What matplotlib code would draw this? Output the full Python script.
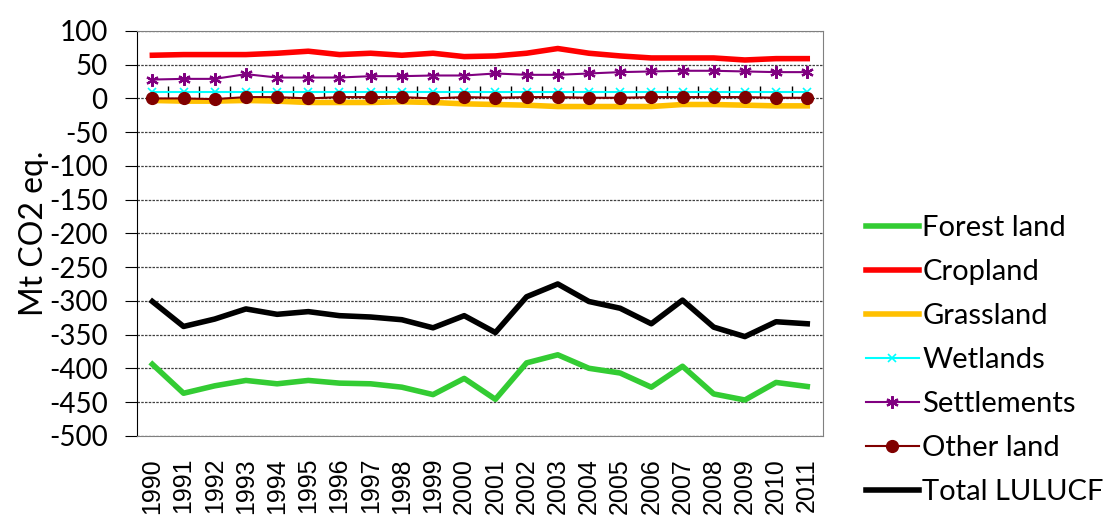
import matplotlib
matplotlib.use("Agg")
import matplotlib.pyplot as plt
import numpy as np

years = [str(y) for y in range(1990, 2012)]
forest_land = [-394, -437, -426, -418, -423, -418, -422, -423, -428, -439, -415, -446,
               -392, -380, -400, -407, -428, -397, -438, -447, -421, -427]
cropland = [64, 65, 65, 65, 67, 70, 65, 67, 64, 67, 62, 63, 67, 74, 67, 63, 60, 60, 60, 57, 59, 59]
grassland = [-3, -4, -4, -3, -4, -6, -6, -6, -5, -6, -8, -9, -10, -12, -12, -12, -12, -9, -9, -10, -11, -11]
wetlands = [9, 9, 9, 9, 9, 9, 9, 9, 9, 9, 9, 9, 9, 9, 9, 9, 9, 9, 9, 9, 9, 9]
settlements = [28, 29, 29, 36, 31, 31, 31, 33, 33, 34, 34, 37, 35, 35, 37, 39, 40, 41, 41, 40, 39, 39]
other_land = [0, 0, -1, 2, 2, 0, 2, 2, 2, 0, 2, 1, 2, 2, 1, 1, 2, 2, 2, 2, 1, 1]
total_lulucf = [-301, -338, -327, -312, -320, -316, -322, -324, -328, -340, -322, -347,
                -294, -275, -301, -311, -334, -299, -339, -353, -331, -334]

plt.rcParams['font.family'] = ['Lato', 'DejaVu Sans']
plt.rcParams['axes.unicode_minus'] = False

fig = plt.figure(figsize=(11.03, 5.25), dpi=100)
ax = fig.add_axes([0.124, 0.170, 0.622, 0.771])

x = np.arange(len(years))
asterisk = (6, 2, 0)
ax.plot(x, forest_land, color='#33CC33', lw=4, label='Forest land', zorder=3)
ax.plot(x, cropland, color='#FF0000', lw=4, label='Cropland', zorder=3)
ax.plot(x, grassland, color='#FFC000', lw=4, label='Grassland', zorder=3)
ax.plot(x, wetlands, color='#00FFFF', lw=1.5, marker='x', ms=6, mew=1.2, label='Wetlands', zorder=4)
ax.plot(x, settlements, color='#800080', lw=1.5, marker=asterisk, ms=9, mew=1.6, label='Settlements', zorder=4)
ax.plot(x, other_land, color='#800000', lw=1.5, marker='o', ms=8.5, label='Other land', zorder=5)
ax.plot(x, total_lulucf, color='#000000', lw=4, label='Total LULUCF', zorder=3)

ax.set_xlim(-0.5, len(years) - 0.5)
ax.set_ylim(-500, 100)
ax.set_yticks(np.arange(-500, 101, 50))
ax.yaxis.grid(True, linestyle=(0, (2, 1)), color='#404040', lw=0.9)
ax.set_axisbelow(True)
ax.tick_params(axis='y', labelsize=20, direction='out', length=9, color='#000000', pad=12)
ax.set_xticks(x)
ax.set_xticklabels(years, rotation=90, fontsize=18, family=['Liberation Sans', 'DejaVu Sans'])
ax.tick_params(axis='x', length=0, pad=16)
ax.set_ylabel('Mt CO2 eq.', fontsize=23, labelpad=0)
for s in ax.spines.values():
    s.set_color('#808080')
ax.spines['left'].set_color('#000000')

# category boundary ticks along the zero line
sec = ax.secondary_xaxis((0 - (-500)) / 600)
sec.set_xticks(np.arange(0.5, len(years) - 0.5, 1))
sec.set_xticklabels([])
sec.tick_params(length=9, direction='out', color='#000000', width=1)
sec.spines['bottom'].set_visible(False)
sec.spines['top'].set_visible(False)

ax.legend(loc='center left', bbox_to_anchor=(1.063, 0.187), frameon=False, fontsize=21,
          handlelength=1.8, labelspacing=0.62, handletextpad=0.13, borderaxespad=0, borderpad=0)

fig.savefig('out.png', dpi=100)
